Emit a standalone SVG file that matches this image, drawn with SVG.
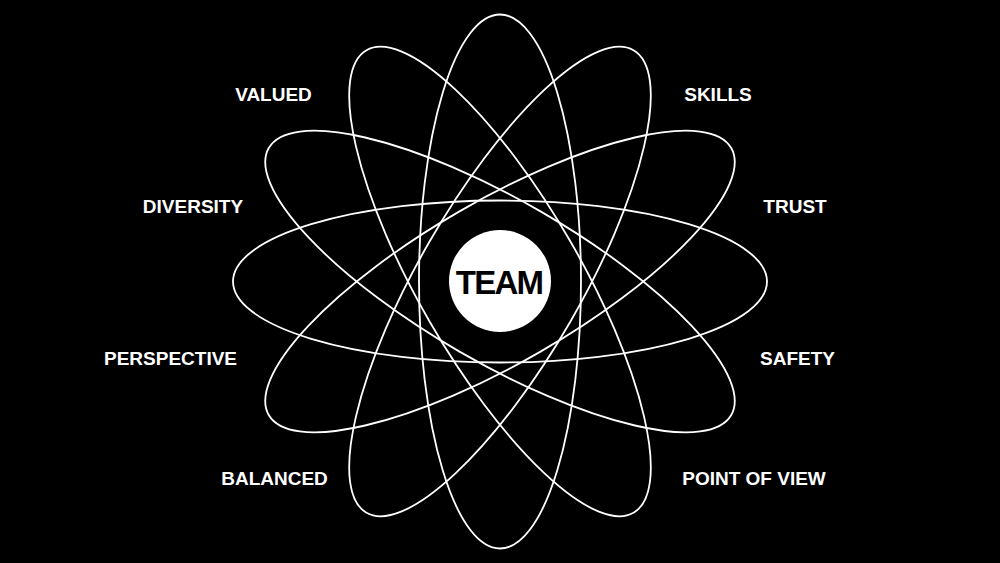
<svg xmlns="http://www.w3.org/2000/svg" width="1000" height="563" viewBox="0 0 1000 563">
<style>
.bg{fill:#000}
.orb{fill:none;stroke:#fff;stroke-width:1.8}
.lbl{fill:#fff;font-family:"Liberation Sans",Arial,sans-serif;font-weight:bold;font-size:19px;text-anchor:middle}
.core{fill:#fff}
.coretxt{fill:#000;font-family:"Liberation Sans",Arial,sans-serif;font-weight:bold;font-size:33px;text-anchor:middle;letter-spacing:-1.8px}
</style>
<rect class="bg" x="0" y="0" width="1000" height="563"/>
<g id="connectors">
<ellipse class="orb" cx="500" cy="281.5" rx="267" ry="81" transform="rotate(0 500 281.5)"/>
<ellipse class="orb" cx="500" cy="281.5" rx="267" ry="81" transform="rotate(30 500 281.5)"/>
<ellipse class="orb" cx="500" cy="281.5" rx="267" ry="81" transform="rotate(60 500 281.5)"/>
<ellipse class="orb" cx="500" cy="281.5" rx="267" ry="81" transform="rotate(90 500 281.5)"/>
<ellipse class="orb" cx="500" cy="281.5" rx="267" ry="81" transform="rotate(120 500 281.5)"/>
<ellipse class="orb" cx="500" cy="281.5" rx="267" ry="81" transform="rotate(150 500 281.5)"/>
</g>
<g id="team">
<circle class="core" cx="500" cy="281" r="51"/>
<text class="coretxt" x="499" y="294">TEAM</text>
</g>
<g id="valued"><text class="lbl" x="273.5" y="101">VALUED</text></g>
<g id="skills"><text class="lbl" x="718" y="101">SKILLS</text></g>
<g id="diversity"><text class="lbl" x="193" y="213">DIVERSITY</text></g>
<g id="trust"><text class="lbl" x="795" y="213">TRUST</text></g>
<g id="perspective"><text class="lbl" x="170.5" y="365">PERSPECTIVE</text></g>
<g id="safety"><text class="lbl" x="797.5" y="365">SAFETY</text></g>
<g id="balanced"><text class="lbl" x="274.5" y="485">BALANCED</text></g>
<g id="pointofview"><text class="lbl" x="754" y="485">POINT OF VIEW</text></g>
</svg>
